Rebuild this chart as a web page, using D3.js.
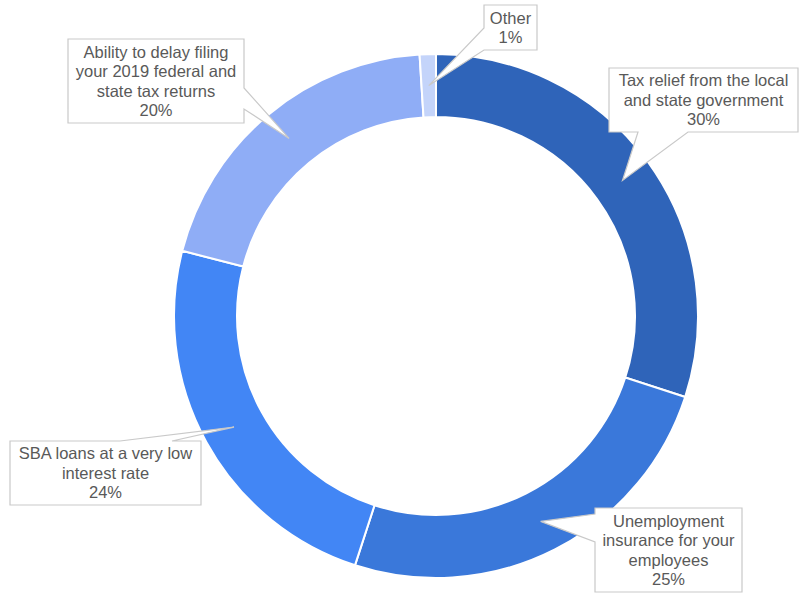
<!DOCTYPE html>
<html>
<head>
<meta charset="utf-8">
<script src="https://cdn.jsdelivr.net/npm/d3@7"></script>
<style>
  body { margin: 0; background: #fff; }
  svg { display: block; font-family: "Liberation Sans", Arial, sans-serif; }
</style>
</head>
<body>
<div id="chart"></div>
<script>
const WIDTH = 799, HEIGHT = 594;

// data
const categories = [
    "Tax relief from the local and state government",
    "Unemployment insurance for your employees",
    "SBA loans at a very low interest rate",
    "Ability to delay filing your 2019 federal and state tax returns",
    "Other"
];
const values = [30, 25, 24, 20, 1];
const labelLines = [
    ["Tax relief from the local", "and state government"],
    ["Unemployment", "insurance for your", "employees"],
    ["SBA loans at a very low", "interest rate"],
    ["Ability to delay filing", "your 2019 federal and", "state tax returns"],
    ["Other"]
];
const colors = ["#2f64b9", "#3a78da", "#4286f5", "#8fadf6", "#c4d4fa"];

// callout boxes, one per slice (box + which side the pointer leaves from)
const callouts = [
    {x: 609, y: 68,  w: 189, h: 64, side: "bottom", a: 638, b: 688},
    {x: 595, y: 508, w: 147, h: 84, side: "left",   a: 514, b: 542},
    {x: 10,  y: 441, w: 191, h: 64, side: "top",    a: 120, b: 172},
    {x: 68,  y: 39,  w: 176, h: 84, side: "right",  a: 88,  b: 109},
    {x: 484, y: 5,   w: 53,  h: 45, side: "left",   a: 28,  b: 50}
];

const cx = 436, cy = 316;
const outerR = 262, innerR = 199;

const svg = d3.select("#chart").append("svg")
    .attr("width", WIDTH)
    .attr("height", HEIGHT);

const pie = d3.pie().sort(null).value(d => d);
const arcs = pie(values);

const arc = d3.arc().innerRadius(innerR).outerRadius(outerR);

const g = svg.append("g").attr("transform", `translate(${cx},${cy})`);

g.selectAll("path.slice").data(arcs).enter().append("path")
    .attr("class", "slice")
    .attr("d", arc)
    .attr("fill", (d, i) => colors[i])
    .attr("stroke", "#fff")
    .attr("stroke-width", 2);

// outline of a box with a pointer going to tip
function calloutPath(c, tip) {
    const x0 = c.x, y0 = c.y, x1 = c.x + c.w, y1 = c.y + c.h;
    let p = d3.path();
    p.moveTo(x0, y0);
    if (c.side === "top") { p.lineTo(c.a, y0); p.lineTo(tip[0], tip[1]); p.lineTo(c.b, y0); }
    p.lineTo(x1, y0);
    if (c.side === "right") { p.lineTo(x1, c.a); p.lineTo(tip[0], tip[1]); p.lineTo(x1, c.b); }
    p.lineTo(x1, y1);
    if (c.side === "bottom") { p.lineTo(c.b, y1); p.lineTo(tip[0], tip[1]); p.lineTo(c.a, y1); }
    p.lineTo(x0, y1);
    if (c.side === "left") { p.lineTo(x0, c.b); p.lineTo(tip[0], tip[1]); p.lineTo(x0, c.a); }
    p.closePath();
    return p.toString();
}

const labels = svg.selectAll("g.callout").data(arcs).enter().append("g")
    .attr("class", "callout");

labels.append("path")
    .attr("d", (d, i) => {
        const c = arc.centroid(d);
        return calloutPath(callouts[i], [c[0] + cx, c[1] + cy]);
    })
    .attr("fill", "#fff")
    .attr("stroke", "#c9c9c9")
    .attr("stroke-width", 1.2);

labels.each(function(d, i) {
    const c = callouts[i];
    const lines = labelLines[i].concat([values[i] + "%"]);
    const lh = 19.5;
    const top = c.y + c.h / 2 - (lines.length - 1) * lh / 2;
    const t = d3.select(this).append("text")
        .attr("text-anchor", "middle")
        .attr("font-size", 16.5)
        .attr("fill", "#595959");
    lines.forEach((ln, k) => {
        t.append("tspan")
            .attr("x", c.x + c.w / 2)
            .attr("y", top + k * lh)
            .attr("dy", "0.35em")
            .text(ln);
    });
});
</script>
</body>
</html>
